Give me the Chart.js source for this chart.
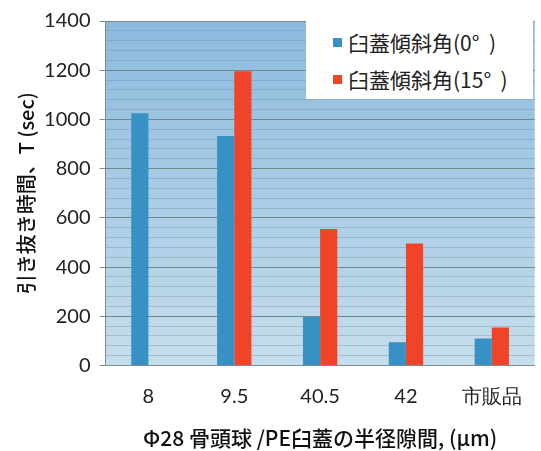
<!DOCTYPE html>
<html><head><meta charset="utf-8">
<script src="https://cdn.jsdelivr.net/npm/chart.js@4.4.1/dist/chart.umd.min.js"></script>
<style>
html,body{margin:0;padding:0;background:#fff;}
#wrap{position:relative;width:541px;height:451px;overflow:hidden;}
#legend{position:absolute;left:306px;top:19px;width:227px;height:80px;background:#fff;font-family:"Noto Sans CJK JP";font-size:21px;color:#222;}
.item{position:absolute;left:0;height:24px;line-height:24px;white-space:pre;}
.sw{position:absolute;left:27px;top:8px;width:9px;height:9px;}
.lbl{position:absolute;left:42px;top:0;}
</style></head>
<body><div id="wrap"><canvas id="c" width="541" height="451"></canvas><div id="legend"></div></div>
<script>
const categories = ['8', '9.5', '40.5', '42', '市販品'];
const seriesLabels = ['臼蓋傾斜角(0°  )', '臼蓋傾斜角(15°  )'];
const tilt0 = [1025, 933, 197, 94, 110];
const tilt15 = [null, 1196, 555, 496, 154];
const yTickLabels = ['0', '200', '400', '600', '800', '1000', '1200', '1400'];
const yMinorStep = 40;

const blue = '#3891c4';
const red = '#f04428';

const bgPlugin = {
  id: 'bg',
  beforeDraw(chart) {
    const {ctx, chartArea: a} = chart;
    const g = ctx.createLinearGradient(0, a.top, 0, a.bottom);
    g.addColorStop(0, '#8cbade');
    g.addColorStop(1, '#c6deeb');
    ctx.save();
    ctx.fillStyle = g;
    ctx.fillRect(a.left, a.top, a.right - a.left, a.bottom - a.top);
    ctx.restore();
  }
};

const yMax = Number(yTickLabels[yTickLabels.length - 1]);
const isMajor = v => yTickLabels.indexOf(String(v)) >= 0;

const chart = new Chart(document.getElementById('c'), {
  type: 'bar',
  data: {
    labels: categories,
    datasets: [
      {label: seriesLabels[0], data: tilt0, backgroundColor: blue, borderWidth: 0},
      {label: seriesLabels[1], data: tilt15, backgroundColor: red, borderWidth: 0}
    ]
  },
  options: {
    responsive: false,
    animation: false,
    devicePixelRatio: 1,
    layout: {padding: {top: 17, right: 2, left: 0, bottom: 0}},
    datasets: {bar: {categoryPercentage: 0.4, barPercentage: 1.0}},
    plugins: {legend: {display: false}, tooltip: {enabled: false}},
    scales: {
      x: {
        grid: {display: false, drawTicks: false},
        border: {color: '#7d8d8f', width: 1},
        ticks: {font: {family: 'Lato', size: 20}, color: '#222', padding: 19, maxRotation: 0},
        title: {display: true, text: 'Φ28 骨頭球 /PE臼蓋の半径隙間, (μm)', color: '#111',
                font: {family: 'Noto Sans CJK JP', size: 21, weight: '500'}, padding: {top: 0, bottom: 0}},
        afterFit(s) { s.height = 451 - 365.5; }
      },
      y: {
        min: 0, max: yMax,
        ticks: {
          stepSize: yMinorStep, autoSkip: false,
          font: {family: 'Lato', size: 20}, color: '#222', padding: 9,
          callback: v => isMajor(v) ? String(v) : ''
        },
        grid: {
          color: c => (c.tick && isMajor(c.tick.value)) ? '#6f8a8c' : 'rgba(110,140,165,0.38)',
          tickColor: c => (c.tick && isMajor(c.tick.value)) ? '#7d8d8f' : 'rgba(0,0,0,0)',
          tickLength: 6, lineWidth: 1
        },
        border: {color: '#7d8d8f', width: 1},
        title: {display: true, text: '引き抜き時間、T (sec)', color: '#111',
                font: {family: 'Noto Sans CJK JP', size: 20, weight: '500'}, padding: {top: 14, bottom: 0}},
        afterFit(s) { s.width = 105.5; }
      }
    }
  },
  plugins: [bgPlugin]
});

const legend = document.getElementById('legend');
const tops = [10.7, 47.7];
chart.data.datasets.forEach((ds, i) => {
  const it = document.createElement('div');
  it.className = 'item';
  it.style.top = tops[i] + 'px';
  const sw = document.createElement('span');
  sw.className = 'sw';
  sw.style.background = ds.backgroundColor;
  const lb = document.createElement('span');
  lb.className = 'lbl';
  lb.textContent = ds.label;
  it.appendChild(sw); it.appendChild(lb);
  legend.appendChild(it);
});
</script>
</body></html>
